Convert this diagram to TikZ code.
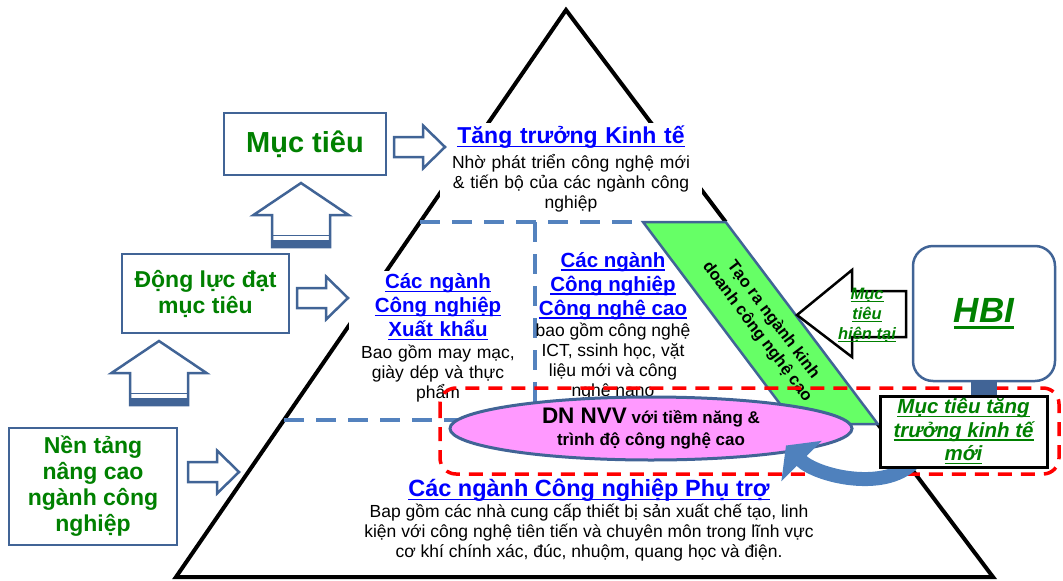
\documentclass[tikz,border=0pt]{standalone}
\usepackage{fontspec}
\setmainfont{Liberation Sans}
\usetikzlibrary{arrows.meta,shapes.geometric}
\pgfdeclarelayer{foreground}
\pgfsetlayers{main,foreground}

\definecolor{titleblue}{RGB}{0,0,255}
\definecolor{textgreen}{RGB}{0,128,0}
\definecolor{boxblue}{RGB}{65,100,150}
\definecolor{dashblue}{RGB}{84,130,190}
\definecolor{nvvpink}{RGB}{255,153,255}
\definecolor{bandgreen}{RGB}{102,255,102}
\definecolor{curveblue}{RGB}{79,129,189}

% underline at a fixed depth
\newcommand{\ulx}[1]{\leavevmode\setbox0=\hbox{#1}\rlap{\rule[-0.17em]{\wd0}{0.075em}}\box0}

\tikzset{
  leftbox/.style={draw=boxblue, line width=2.5pt, inner sep=0pt, align=center, text=textgreen, font=\bfseries\fontsize{23}{26}\selectfont},
  blocktitle/.style={text=titleblue, align=center, inner sep=3pt, font=\bfseries\fontsize{20.5}{24}\selectfont},
  blocktext/.style={align=center, inner sep=3pt, font=\fontsize{17.5}{20}\selectfont},
  dashline/.style={dashblue, line width=3.5pt, dash pattern=on 20pt off 12pt},
  reddash/.style={red, line width=3.5pt, dash pattern=on 14pt off 9pt, rounded corners=16pt},
  blockarrow/.style={draw=boxblue, fill=white, line width=2.5pt, line join=miter},
  goaltext/.style={text=textgreen, align=center, font=\bfseries\itshape\fontsize{20.5}{23.5}\selectfont},
  curvearrow/.style={curveblue, line width=14pt, -{Triangle[width=56pt,length=22pt]}},
  rarrow/.pic={\draw[blockarrow] (0,-10) -- (29,-10) -- (29,-21.5) -- (51,0) -- (29,21.5) -- (29,10) -- (0,10) -- cycle;},
  uarrow/.pic={
    \draw[blockarrow] (0,0) -- (47.5,32) -- (29,32) -- (29,64) -- (-29,64) -- (-29,32) -- (-47.5,32) -- cycle;
    \fill[boxblue] (-29,56.5) rectangle (29,65);
    \draw[boxblue, line width=1.5pt] (-29,52.5) -- (29,52.5);}
}

\begin{document}
\begin{tikzpicture}[x=1pt,y=-1pt]
\useasboundingbox (0,0) rectangle (1063,581);
% pyramid
\draw[line width=4pt, line join=miter] (725.7,222) -- (566,10) -- (176,577) -- (993,577) -- (877.8,424);
% dashed dividers
\draw[dashline] (420,222) -- (643,222);
\draw[dashline] (535,222) -- (535,420);
\draw[dashline] (284,420) -- (470,420);
% green band
\draw[draw=boxblue, line width=2.5pt, fill=bandgreen, line join=miter] (643,222) -- (725.7,222) -- (877.8,424) -- (795.1,424) -- cycle;
\node[rotate=-53, align=center, font=\bfseries\fontsize{16.5}{20}\selectfont] (newbiz) at (765,326) {Tạo ra ngành kinh\\doanh công nghệ cao};

% top level
\node[blocktitle, fill=white, text width=256pt, font=\bfseries\fontsize{23}{26}\selectfont] (growth) at (571,137) {\ulx{Tăng trưởng Kinh tế}};
\node[blocktext, fill=white, text width=256pt] (growthtxt) at (571,183) {Nhờ phát triển công nghệ mới\\\& tiến bộ của các ngành công\\nghiệp};

% middle level
\node[blocktitle, fill=white, text width=172pt] (export) at (438,307) {\ulx{Các ngành}\\\ulx{Công nghiệp}\\\ulx{Xuất khẩu}};
\node[blocktext, fill=white, text width=172pt] (exporttxt) at (438,374) {Bao gồm may mạc,\\giày dép và thực\\phẩm};
\node[blocktitle] (hightech) at (613,286) {\ulx{Các ngành}\\\ulx{Công nghiệp}\\\ulx{Công nghệ cao}};
\node[blocktext] (hightechtxt) at (613,362) {bao gồm công nghệ\\ICT, ssinh học, vặt\\liệu mới và công\\nghệ nano};

% bottom level
\node[blocktitle, font=\bfseries\fontsize{23.5}{26}\selectfont] (support) at (589,490) {\ulx{Các ngành Công nghiệp Phụ trợ}};
\node[blocktext] (supporttxt) at (589,533) {Bap gồm các nhà cung cấp thiết bị sản xuất chế tạo, linh\\kiện với công nghệ tiên tiến và chuyên môn trong lĩnh vực\\cơ khí chính xác, đúc, nhuộm, quang học và điện.};

% left column
\node[leftbox, minimum width=162pt, minimum height=62pt, font=\bfseries\fontsize{29}{32}\selectfont] (goal) at (305,144) {Mục tiêu};
\node[leftbox, minimum width=167pt, minimum height=79pt] (drive) at (205.5,293.5) {Động lực đạt\\mục tiêu};
\node[leftbox, minimum width=168pt, minimum height=117pt] (base) at (93,486.5) {Nền tảng\\nâng cao\\ngành công\\nghiệp};
\pic at (394,147) {rarrow};
\pic at (297,298) {rarrow};
\pic at (188,472) {rarrow};
\pic at (301,183) {uarrow};
\pic at (159,341) {uarrow};

% SME zone
\draw[reddash] (440,388) rectangle (1059,474);
\node[ellipse, draw=boxblue, line width=3pt, fill=nvvpink, inner sep=0pt, minimum width=402pt, minimum height=63pt, align=center, font=\bfseries\fontsize{17}{22}\selectfont] (dnnvv) at (651,428.5) {{\fontsize{22.5}{26}\selectfont DN NVV} với tiềm năng \&\\trình độ công nghệ cao};

% current goal arrow
\draw[line width=2.5pt, fill=white, line join=miter] (797,315) -- (852,270) -- (852,291) -- (906,291) -- (906,337) -- (852,337) -- (852,357) -- cycle;
\node[text=textgreen, align=center, font=\bfseries\itshape\fontsize{16.5}{20}\selectfont] (curgoal) at (867,315) {\ulx{Mục}\\\ulx{tiêu}\\\ulx{hiện tại}};

% HBI
\node[draw=boxblue, line width=2.5pt, rounded corners=20pt, minimum width=142pt, minimum height=135pt, text=textgreen, font=\bfseries\itshape\fontsize{35}{40}\selectfont] (hbi) at (984,313.5) {\ulx{HBI}};
\begin{pgfonlayer}{foreground}
\node[goaltext, draw=black, fill=white, line width=3pt, minimum width=167pt, minimum height=71pt, inner sep=0pt] (newgoal) at (963.5,431.5) {\ulx{Mục tiêu tăng}\\\ulx{trưởng kinh tế}\\\ulx{mới}};
\end{pgfonlayer}
\draw[line width=26pt, boxblue] (hbi.south) -- (hbi.south |- newgoal.north);
\draw[curvearrow] ([xshift=-50pt,yshift=6pt]newgoal.south) .. controls +(-30,30) and +(30,30) .. ([xshift=135pt,yshift=-17pt]dnnvv.center);
\end{tikzpicture}
\end{document}
